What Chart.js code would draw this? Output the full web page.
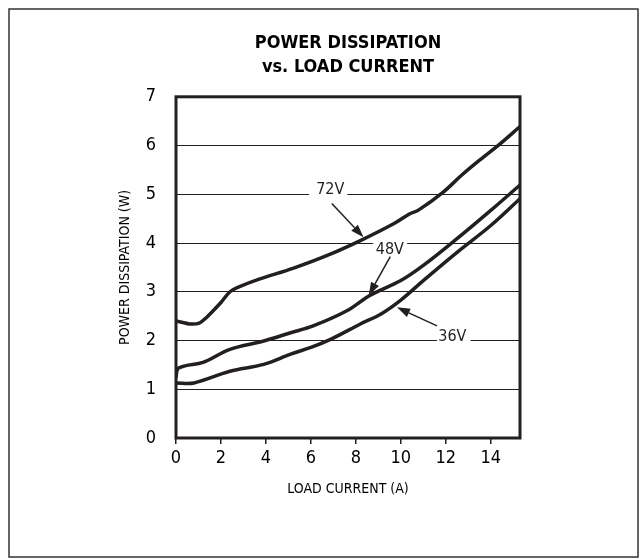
<!DOCTYPE html>
<html>
<head>
<meta charset="utf-8">
<script src="https://cdn.jsdelivr.net/npm/chart.js@4/dist/chart.umd.min.js"></script>
<style>
  html, body { margin: 0; padding: 0; background: #fff; }
  #wrap { width: 641px; height: 559px; }
</style>
</head>
<body>
<div id="wrap"><canvas id="c" width="641" height="559"></canvas></div>
<script>
// load current (A) and power dissipation (W)
const current72 = [0, 0.3, 0.6, 1.0, 1.3, 1.5, 2.0, 2.4, 2.8, 3.7, 5.2, 6.7, 8.2, 9.7, 10.4, 10.8, 11.9, 12.7, 13.5, 14.4, 15.3];
const power72   = [2.40, 2.37, 2.34, 2.35, 2.45, 2.54, 2.78, 3.00, 3.10, 3.26, 3.48, 3.74, 4.05, 4.40, 4.60, 4.68, 5.05, 5.39, 5.70, 6.03, 6.39];

const current48 = [0, 0.08, 0.4, 1.2, 2.4, 3.9, 5.1, 6.1, 7.6, 8.6, 10.0, 11.0, 12.5, 14.0, 15.3];
const power48   = [1.24, 1.42, 1.48, 1.55, 1.82, 1.99, 2.16, 2.30, 2.61, 2.92, 3.23, 3.54, 4.09, 4.67, 5.19];

const current36 = [0, 0.8, 2.4, 3.9, 5.1, 6.0, 6.9, 8.2, 9.1, 10.0, 11.0, 12.5, 14.0, 15.3];
const power36   = [1.13, 1.13, 1.37, 1.51, 1.72, 1.86, 2.03, 2.34, 2.54, 2.83, 3.23, 3.81, 4.36, 4.91];

const xTicks = [0, 2, 4, 6, 8, 10, 12, 14];
const yTicks = [0, 1, 2, 3, 4, 5, 6, 7];

// curve labels: text, anchor (data units), gridline gap
const curveLabels = [
  { text: '72V', x: 6.86, y: 5.00, gridY: 5, gapFrom: 5.92, gapTo: 7.62 },
  { text: '48V', x: 9.51, y: 3.78, gridY: 4, gapFrom: 8.77, gapTo: 10.28 },
  { text: '36V', x: 12.29, y: 2.00, gridY: 2, gapFrom: 11.61, gapTo: 13.10 }
];
const arrows = [
  { x1: 6.93, y1: 4.81, x2: 8.34, y2: 4.12 },
  { x1: 9.53, y1: 3.72, x2: 8.57, y2: 2.93 },
  { x1: 11.61, y1: 2.30, x2: 9.83, y2: 2.68 }
];

const INK = '#231f20';
const FONT = '"Liberation Sans Narrow", "DejaVu Sans Condensed", "Arial Narrow", sans-serif';

function pts(xs, ys) {
  return xs.map((v, i) => ({ x: v, y: ys[i] }));
}

const annotate = {
  id: 'annotate',
  beforeDatasetsDraw(chart) {
    const { ctx, scales: { x, y } } = chart;
    ctx.save();
    ctx.fillStyle = '#fff';
    curveLabels.forEach(l => {
      const py = y.getPixelForValue(l.gridY);
      const a = x.getPixelForValue(l.gapFrom), b = x.getPixelForValue(l.gapTo);
      ctx.fillRect(a, py - 2, b - a, 4);
    });
    ctx.restore();
  },
  afterDatasetsDraw(chart) {
    const { ctx, scales: { x, y } } = chart;
    ctx.save();
    ctx.fillStyle = INK;
    ctx.strokeStyle = INK;
    ctx.font = '16px ' + FONT;
    ctx.textAlign = 'center';
    ctx.textBaseline = 'alphabetic';
    curveLabels.forEach(l => {
      ctx.fillText(l.text, x.getPixelForValue(l.x), y.getPixelForValue(l.y));
    });
    arrows.forEach(a => {
      const x1 = x.getPixelForValue(a.x1), y1 = y.getPixelForValue(a.y1);
      const x2 = x.getPixelForValue(a.x2), y2 = y.getPixelForValue(a.y2);
      const ang = Math.atan2(y2 - y1, x2 - x1);
      const len = 13, half = 4.5;
      const bx = x2 - len * Math.cos(ang), by = y2 - len * Math.sin(ang);
      ctx.lineWidth = 1.5;
      ctx.beginPath();
      ctx.moveTo(x1, y1);
      ctx.lineTo(bx, by);
      ctx.stroke();
      ctx.beginPath();
      ctx.moveTo(x2, y2);
      ctx.lineTo(bx + half * Math.sin(ang), by - half * Math.cos(ang));
      ctx.lineTo(bx - half * Math.sin(ang), by + half * Math.cos(ang));
      ctx.closePath();
      ctx.fill();
    });
    ctx.restore();
  },
  afterDraw(chart) {
    const { ctx, chartArea: ca } = chart;
    ctx.save();
    ctx.strokeStyle = INK;
    ctx.lineWidth = 3;
    ctx.strokeRect(ca.left, ca.top, ca.right - ca.left, ca.bottom - ca.top);
    // outer figure frame
    ctx.lineWidth = 1.5;
    ctx.strokeStyle = '#333';
    ctx.strokeRect(9, 9, 629, 548);
    ctx.restore();
  }
};

const lineStyle = {
  borderColor: INK,
  borderWidth: 3.5,
  pointRadius: 0,
  tension: 0.35,
  fill: false
};

new Chart(document.getElementById('c'), {
  type: 'line',
  data: {
    datasets: [
      Object.assign({ label: '72V', data: pts(current72, power72) }, lineStyle),
      Object.assign({ label: '48V', data: pts(current48, power48) }, lineStyle),
      Object.assign({ label: '36V', data: pts(current36, power36) }, lineStyle)
    ]
  },
  options: {
    responsive: false,
    animation: false,
    layout: { padding: { left: 117, right: 121, top: 0, bottom: 61 } },
    plugins: {
      legend: { display: false },
      tooltip: { enabled: false },
      title: {
        display: true,
        fullSize: false,
        text: ['POWER DISSIPATION', 'vs. LOAD CURRENT'],
        color: '#000',
        font: { family: FONT, size: 18, weight: 'bold', lineHeight: 1.3 },
        padding: { top: 32, bottom: 18 }
      }
    },
    scales: {
      x: {
        type: 'linear',
        min: 0,
        max: 15.3,
        afterBuildTicks: s => { s.ticks = xTicks.map(v => ({ value: v })); },
        afterFit: s => { s.height = 60; },
        grid: { drawOnChartArea: false, drawTicks: true, tickLength: 6, color: INK, lineWidth: 1.5 },
        border: { display: false },
        ticks: { color: '#000', padding: 4, font: { family: FONT, size: 18 }, maxRotation: 0 },
        title: { display: true, text: 'LOAD CURRENT (A)', color: '#000', padding: 0, font: { family: FONT, size: 14 } }
      },
      y: {
        min: 0,
        max: 7,
        afterBuildTicks: s => { s.ticks = yTicks.map(v => ({ value: v })); },
        afterFit: s => { s.width = 59; },
        grid: { drawTicks: false, color: INK, lineWidth: 1 },
        border: { display: false },
        ticks: { color: '#000', padding: 20, font: { family: FONT, size: 18 } },
        title: { display: true, text: 'POWER DISSIPATION (W)', color: '#000', padding: 0, font: { family: FONT, size: 14 } }
      }
    }
  },
  plugins: [annotate]
});
</script>
</body>
</html>
